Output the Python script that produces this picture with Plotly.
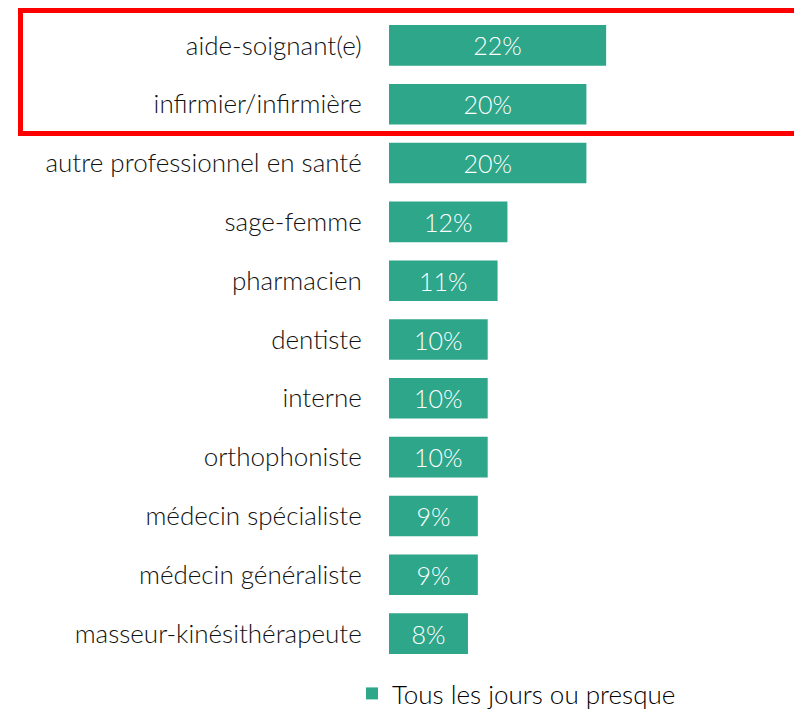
import plotly.graph_objects as go

categories = [
    "aide-soignant(e)",
    "infirmier/infirmière",
    "autre professionnel en santé",
    "sage-femme",
    "pharmacien",
    "dentiste",
    "interne",
    "orthophoniste",
    "médecin spécialiste",
    "médecin généraliste",
    "masseur-kinésithérapeute",
]
values = [22, 20, 20, 12, 11, 10, 10, 10, 9, 9, 8]
value_labels = [f"{v}%" for v in values]
series_name = "Tous les jours ou presque"

W, H = 794, 711
ML, MR, MT, MB = 389, 5, 16, 48
pw = W - ML - MR
ph = H - MT - MB
px_per_unit = 9.87
FONT = "Lato, Open Sans, sans-serif"

fig = go.Figure()
fig.add_trace(go.Bar(
    y=categories,
    x=values,
    orientation="h",
    name=series_name,
    marker=dict(color="#2EA68A", line=dict(width=0)),
    text=value_labels,
    textposition="inside",
    insidetextanchor="middle",
    textfont=dict(family=FONT, size=25, color="white", weight=300),
    showlegend=True,
))

def px_x(p):
    return (p - ML) / pw

def px_y(p):
    return (H - MB - p) / ph

fig.add_shape(
    type="rect", xref="paper", yref="paper",
    x0=px_x(20.5), x1=px_x(810), y0=px_y(133.5), y1=px_y(10.5),
    line=dict(color="#FF0000", width=5), fillcolor="rgba(0,0,0,0)",
)

fig.update_layout(
    width=W, height=H,
    margin=dict(l=ML, r=MR, t=MT, b=MB, autoexpand=False),
    plot_bgcolor="white", paper_bgcolor="white",
    bargap=0.31,
    font=dict(family=FONT, color="#111111"),
    xaxis=dict(range=[0, pw / px_per_unit], visible=False, showgrid=False,
               zeroline=False, automargin=False),
    yaxis=dict(
        autorange="reversed", showgrid=False, zeroline=False, showline=False,
        automargin=False,
        ticks="outside", ticklen=21, tickcolor="rgba(0,0,0,0)",
        tickfont=dict(family=FONT, size=26, color="#111111", weight=300),
    ),
    legend=dict(
        orientation="h", x=px_x(352), y=px_y(670), xanchor="left", yanchor="top",
        font=dict(family=FONT, size=26, color="#000000", weight=300),
        itemwidth=30, bgcolor="rgba(0,0,0,0)",
    ),
    uniformtext=dict(mode="show", minsize=10),
)

fig.write_html("out.html", config={"displayModeBar": False},
               post_script="document.body.style.margin='0';")
